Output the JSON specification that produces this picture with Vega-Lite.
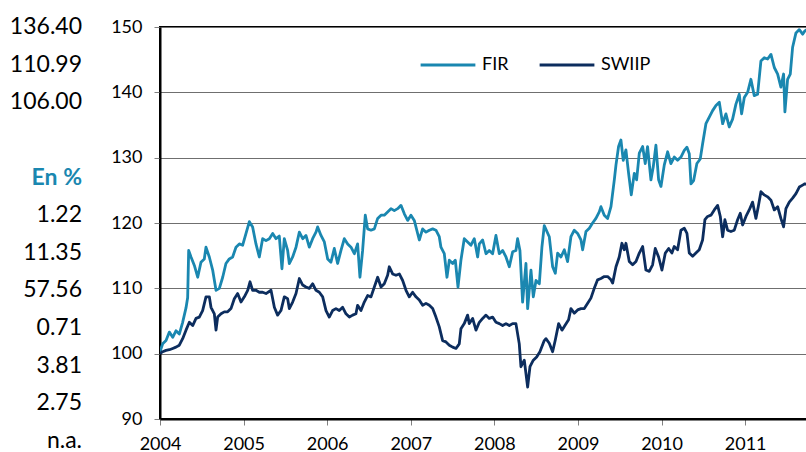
{
  "$schema": "https://vega.github.io/schema/vega-lite/v6.json",
  "padding": {"left": 0, "top": 16, "right": 0, "bottom": 0},
  "config": {"font": "Lato", "view": {"stroke": null}, "concat": {"spacing": 27}},
  "resolve": {"legend": {"color": "independent"}},
  "hconcat": [
    {
      "width": 82,
      "height": 414,
      "data": {"values": [
        {"row": 1, "label": "136.40", "kind": "value"},
        {"row": 2, "label": "110.99", "kind": "value"},
        {"row": 3, "label": "106.00", "kind": "value"},
        {"row": 5, "label": "En %", "kind": "header"},
        {"row": 6, "label": "1.22", "kind": "value"},
        {"row": 7, "label": "11.35", "kind": "value"},
        {"row": 8, "label": "57.56", "kind": "value"},
        {"row": 9, "label": "0.71", "kind": "value"},
        {"row": 10, "label": "3.81", "kind": "value"},
        {"row": 11, "label": "2.75", "kind": "value"},
        {"row": 12, "label": "n.a.", "kind": "value"}
      ]},
      "encoding": {
        "x": {"datum": 1, "type": "quantitative", "scale": {"domain": [0, 1]}, "axis": null},
        "y": {"field": "row", "type": "ordinal", "scale": {"type": "point", "padding": 0, "domain": [1,2,3,4,5,6,7,8,9,10,11,12]}, "axis": null},
        "text": {"field": "label"}
      },
      "layer": [
        {"transform": [{"filter": "datum.kind === 'value'"}],
         "mark": {"type": "text", "align": "right", "baseline": "middle", "fontSize": 23, "color": "#000000"}},
        {"transform": [{"filter": "datum.kind === 'header'"}],
         "mark": {"type": "text", "align": "right", "baseline": "middle", "fontSize": 23, "fontWeight": "bold", "color": "#1a87b0"}}
      ]
    },
    {
      "width": 652,
      "height": 392,
      "view": {"stroke": "#000000", "strokeWidth": 2},
      "data": {"values": [
        {"s":"FIR","t":2004.000,"v":100.3},{"s":"FIR","t":2004.032,"v":101.5},{"s":"FIR","t":2004.072,"v":102},{"s":"FIR","t":2004.112,"v":103.3},{"s":"FIR","t":2004.152,"v":102.5},{"s":"FIR","t":2004.191,"v":103.5},{"s":"FIR","t":2004.231,"v":103},{"s":"FIR","t":2004.271,"v":104.8},{"s":"FIR","t":2004.311,"v":107},{"s":"FIR","t":2004.331,"v":108.6},{"s":"FIR","t":2004.343,"v":115.8},{"s":"FIR","t":2004.371,"v":114.8},{"s":"FIR","t":2004.411,"v":113.5},{"s":"FIR","t":2004.451,"v":111.7},{"s":"FIR","t":2004.490,"v":114},{"s":"FIR","t":2004.530,"v":114.5},{"s":"FIR","t":2004.550,"v":116.3},{"s":"FIR","t":2004.590,"v":114.8},{"s":"FIR","t":2004.630,"v":112.8},{"s":"FIR","t":2004.670,"v":109.7},{"s":"FIR","t":2004.710,"v":110},{"s":"FIR","t":2004.750,"v":111.7},{"s":"FIR","t":2004.789,"v":113.8},{"s":"FIR","t":2004.829,"v":114.5},{"s":"FIR","t":2004.869,"v":114.8},{"s":"FIR","t":2004.909,"v":116.3},{"s":"FIR","t":2004.949,"v":116.8},{"s":"FIR","t":2004.989,"v":116.6},{"s":"FIR","t":2005.029,"v":118.4},{"s":"FIR","t":2005.069,"v":120.2},{"s":"FIR","t":2005.108,"v":119.4},{"s":"FIR","t":2005.148,"v":116.8},{"s":"FIR","t":2005.188,"v":114.8},{"s":"FIR","t":2005.228,"v":117.6},{"s":"FIR","t":2005.268,"v":117.3},{"s":"FIR","t":2005.308,"v":117.6},{"s":"FIR","t":2005.348,"v":118.4},{"s":"FIR","t":2005.388,"v":117.6},{"s":"FIR","t":2005.427,"v":118},{"s":"FIR","t":2005.459,"v":113},{"s":"FIR","t":2005.487,"v":117.6},{"s":"FIR","t":2005.527,"v":115.8},
        {"s":"FIR","t":2005.547,"v":113.8},{"s":"FIR","t":2005.587,"v":114.8},{"s":"FIR","t":2005.627,"v":116.3},{"s":"FIR","t":2005.667,"v":118.6},{"s":"FIR","t":2005.707,"v":117.6},{"s":"FIR","t":2005.746,"v":118.1},{"s":"FIR","t":2005.786,"v":116.3},{"s":"FIR","t":2005.826,"v":117.6},{"s":"FIR","t":2005.866,"v":118.6},{"s":"FIR","t":2005.886,"v":119.4},{"s":"FIR","t":2005.926,"v":118.1},{"s":"FIR","t":2005.966,"v":117.1},{"s":"FIR","t":2006.006,"v":114.5},{"s":"FIR","t":2006.045,"v":114},{"s":"FIR","t":2006.085,"v":116.1},{"s":"FIR","t":2006.125,"v":113.8},{"s":"FIR","t":2006.165,"v":115.8},{"s":"FIR","t":2006.205,"v":117.6},{"s":"FIR","t":2006.245,"v":116.8},{"s":"FIR","t":2006.285,"v":116.3},{"s":"FIR","t":2006.325,"v":115.3},{"s":"FIR","t":2006.364,"v":116.8},{"s":"FIR","t":2006.392,"v":111.7},{"s":"FIR","t":2006.424,"v":115.8},{"s":"FIR","t":2006.456,"v":121.2},{"s":"FIR","t":2006.484,"v":119.1},{"s":"FIR","t":2006.524,"v":118.9},{"s":"FIR","t":2006.564,"v":119.1},{"s":"FIR","t":2006.604,"v":120.7},{"s":"FIR","t":2006.644,"v":121.2},{"s":"FIR","t":2006.683,"v":121.2},{"s":"FIR","t":2006.723,"v":121.7},{"s":"FIR","t":2006.763,"v":122.2},{"s":"FIR","t":2006.803,"v":121.9},{"s":"FIR","t":2006.843,"v":122.2},{"s":"FIR","t":2006.883,"v":122.7},{"s":"FIR","t":2006.923,"v":121.4},{"s":"FIR","t":2006.963,"v":120.4},{"s":"FIR","t":2007.002,"v":121.2},{"s":"FIR","t":2007.042,"v":120.4},
        {"s":"FIR","t":2007.102,"v":117.4},{"s":"FIR","t":2007.142,"v":119.1},{"s":"FIR","t":2007.182,"v":118.6},{"s":"FIR","t":2007.222,"v":118.9},{"s":"FIR","t":2007.262,"v":119.1},{"s":"FIR","t":2007.301,"v":118.9},{"s":"FIR","t":2007.341,"v":117.9},{"s":"FIR","t":2007.361,"v":116.3},{"s":"FIR","t":2007.401,"v":115.3},{"s":"FIR","t":2007.433,"v":111.7},{"s":"FIR","t":2007.461,"v":114.3},{"s":"FIR","t":2007.501,"v":113.8},{"s":"FIR","t":2007.533,"v":114.3},{"s":"FIR","t":2007.565,"v":110.2},{"s":"FIR","t":2007.600,"v":114.3},{"s":"FIR","t":2007.640,"v":117.6},{"s":"FIR","t":2007.680,"v":117.1},{"s":"FIR","t":2007.720,"v":116.6},{"s":"FIR","t":2007.760,"v":117.6},{"s":"FIR","t":2007.800,"v":114.8},{"s":"FIR","t":2007.820,"v":116.8},{"s":"FIR","t":2007.860,"v":117.4},{"s":"FIR","t":2007.900,"v":115.3},{"s":"FIR","t":2007.939,"v":115.8},{"s":"FIR","t":2007.979,"v":115.3},{"s":"FIR","t":2008.019,"v":118.1},{"s":"FIR","t":2008.059,"v":115.3},{"s":"FIR","t":2008.099,"v":115.8},{"s":"FIR","t":2008.139,"v":114.8},{"s":"FIR","t":2008.179,"v":113.3},{"s":"FIR","t":2008.219,"v":115.6},{"s":"FIR","t":2008.258,"v":115.8},{"s":"FIR","t":2008.278,"v":117.6},{"s":"FIR","t":2008.306,"v":115.8},{"s":"FIR","t":2008.338,"v":107.9},{"s":"FIR","t":2008.378,"v":113.8},{"s":"FIR","t":2008.398,"v":106.9},{"s":"FIR","t":2008.438,"v":112.8},{"s":"FIR","t":2008.466,"v":108.7},{"s":"FIR","t":2008.498,"v":111.2},{"s":"FIR","t":2008.538,"v":110.7},{"s":"FIR","t":2008.569,"v":116.3},{"s":"FIR","t":2008.597,"v":119.6},
        {"s":"FIR","t":2008.657,"v":117.9},{"s":"FIR","t":2008.697,"v":113.3},{"s":"FIR","t":2008.729,"v":112.3},{"s":"FIR","t":2008.757,"v":115.4},{"s":"FIR","t":2008.797,"v":114.8},{"s":"FIR","t":2008.837,"v":115.9},{"s":"FIR","t":2008.876,"v":114.1},{"s":"FIR","t":2008.916,"v":117.9},{"s":"FIR","t":2008.956,"v":118.9},{"s":"FIR","t":2008.996,"v":118.4},{"s":"FIR","t":2009.036,"v":117.4},{"s":"FIR","t":2009.056,"v":115.9},{"s":"FIR","t":2009.096,"v":118.7},{"s":"FIR","t":2009.136,"v":119.2},{"s":"FIR","t":2009.175,"v":120},{"s":"FIR","t":2009.215,"v":120.7},{"s":"FIR","t":2009.255,"v":121.7},{"s":"FIR","t":2009.275,"v":122.5},{"s":"FIR","t":2009.315,"v":121.2},{"s":"FIR","t":2009.355,"v":120.7},{"s":"FIR","t":2009.395,"v":122.5},{"s":"FIR","t":2009.435,"v":126.6},{"s":"FIR","t":2009.455,"v":128.9},{"s":"FIR","t":2009.486,"v":131.7},{"s":"FIR","t":2009.514,"v":132.7},{"s":"FIR","t":2009.542,"v":129.6},{"s":"FIR","t":2009.574,"v":131.2},{"s":"FIR","t":2009.606,"v":127.6},{"s":"FIR","t":2009.638,"v":124.3},{"s":"FIR","t":2009.674,"v":127.6},{"s":"FIR","t":2009.702,"v":126.6},{"s":"FIR","t":2009.734,"v":130.7},{"s":"FIR","t":2009.774,"v":131.7},{"s":"FIR","t":2009.805,"v":129.1},{"s":"FIR","t":2009.833,"v":131.7},{"s":"FIR","t":2009.873,"v":126.6},{"s":"FIR","t":2009.901,"v":128.6},{"s":"FIR","t":2009.933,"v":131.9},{"s":"FIR","t":2009.965,"v":126.6},{"s":"FIR","t":2009.993,"v":125.6},{"s":"FIR","t":2010.033,"v":128.9},{"s":"FIR","t":2010.073,"v":130.9},{"s":"FIR","t":2010.112,"v":129.1},
        {"s":"FIR","t":2010.152,"v":130.1},{"s":"FIR","t":2010.192,"v":129.6},{"s":"FIR","t":2010.232,"v":130.1},{"s":"FIR","t":2010.272,"v":131.1},{"s":"FIR","t":2010.304,"v":131.6},{"s":"FIR","t":2010.332,"v":130.6},{"s":"FIR","t":2010.352,"v":126},{"s":"FIR","t":2010.384,"v":126.5},{"s":"FIR","t":2010.423,"v":129.1},{"s":"FIR","t":2010.463,"v":129.8},{"s":"FIR","t":2010.491,"v":132.1},{"s":"FIR","t":2010.531,"v":135.2},{"s":"FIR","t":2010.571,"v":136.2},{"s":"FIR","t":2010.611,"v":137.2},{"s":"FIR","t":2010.651,"v":138},{"s":"FIR","t":2010.691,"v":138.5},{"s":"FIR","t":2010.731,"v":135.2},{"s":"FIR","t":2010.770,"v":136.7},{"s":"FIR","t":2010.810,"v":134.7},{"s":"FIR","t":2010.850,"v":135.9},{"s":"FIR","t":2010.890,"v":138.2},{"s":"FIR","t":2010.930,"v":139.7},{"s":"FIR","t":2010.958,"v":136.7},{"s":"FIR","t":2010.990,"v":139.2},{"s":"FIR","t":2011.030,"v":140},{"s":"FIR","t":2011.069,"v":142},{"s":"FIR","t":2011.109,"v":139.5},{"s":"FIR","t":2011.149,"v":139.7},{"s":"FIR","t":2011.189,"v":144.8},{"s":"FIR","t":2011.229,"v":145.3},{"s":"FIR","t":2011.269,"v":145.1},{"s":"FIR","t":2011.309,"v":145.8},{"s":"FIR","t":2011.349,"v":143.8},{"s":"FIR","t":2011.389,"v":142.8},{"s":"FIR","t":2011.428,"v":140.8},{"s":"FIR","t":2011.460,"v":142.8},{"s":"FIR","t":2011.476,"v":137},{"s":"FIR","t":2011.508,"v":142},{"s":"FIR","t":2011.540,"v":142.8},{"s":"FIR","t":2011.568,"v":146.9},{"s":"FIR","t":2011.608,"v":149.1},{"s":"FIR","t":2011.648,"v":149.6},{"s":"FIR","t":2011.688,"v":148.9},{"s":"FIR","t":2011.715,"v":149.4},{"s":"FIR","t":2011.740,"v":149.6},

        {"s":"SWIIP","t":2004.000,"v":100},{"s":"SWIIP","t":2004.032,"v":100.3},{"s":"SWIIP","t":2004.072,"v":100.5},{"s":"SWIIP","t":2004.112,"v":100.6},{"s":"SWIIP","t":2004.152,"v":100.8},{"s":"SWIIP","t":2004.191,"v":101},{"s":"SWIIP","t":2004.231,"v":101.3},{"s":"SWIIP","t":2004.271,"v":102.3},{"s":"SWIIP","t":2004.311,"v":103.6},{"s":"SWIIP","t":2004.351,"v":104.8},{"s":"SWIIP","t":2004.391,"v":104.3},{"s":"SWIIP","t":2004.431,"v":105.4},{"s":"SWIIP","t":2004.470,"v":105.6},{"s":"SWIIP","t":2004.510,"v":106.6},{"s":"SWIIP","t":2004.550,"v":108.7},{"s":"SWIIP","t":2004.590,"v":108.7},{"s":"SWIIP","t":2004.610,"v":107.1},{"s":"SWIIP","t":2004.650,"v":106.1},{"s":"SWIIP","t":2004.670,"v":103.6},{"s":"SWIIP","t":2004.690,"v":105.6},{"s":"SWIIP","t":2004.730,"v":106.1},{"s":"SWIIP","t":2004.769,"v":106.4},{"s":"SWIIP","t":2004.809,"v":106.4},{"s":"SWIIP","t":2004.849,"v":106.9},{"s":"SWIIP","t":2004.889,"v":108.4},{"s":"SWIIP","t":2004.929,"v":109.2},{"s":"SWIIP","t":2004.969,"v":107.9},{"s":"SWIIP","t":2005.009,"v":108.7},{"s":"SWIIP","t":2005.049,"v":109.7},{"s":"SWIIP","t":2005.077,"v":111},{"s":"SWIIP","t":2005.108,"v":109.7},{"s":"SWIIP","t":2005.148,"v":109.7},{"s":"SWIIP","t":2005.188,"v":109.4},{"s":"SWIIP","t":2005.228,"v":109.4},{"s":"SWIIP","t":2005.268,"v":109.2},{"s":"SWIIP","t":2005.328,"v":109.7},{"s":"SWIIP","t":2005.368,"v":107.1},{"s":"SWIIP","t":2005.407,"v":105.9},{"s":"SWIIP","t":2005.447,"v":106.6},{"s":"SWIIP","t":2005.487,"v":108.7},{"s":"SWIIP","t":2005.527,"v":108.4},
        {"s":"SWIIP","t":2005.547,"v":106.9},{"s":"SWIIP","t":2005.587,"v":107.9},{"s":"SWIIP","t":2005.627,"v":109.2},{"s":"SWIIP","t":2005.667,"v":111.5},{"s":"SWIIP","t":2005.707,"v":110.5},{"s":"SWIIP","t":2005.746,"v":110.2},{"s":"SWIIP","t":2005.786,"v":110},{"s":"SWIIP","t":2005.826,"v":110.7},{"s":"SWIIP","t":2005.866,"v":109.7},{"s":"SWIIP","t":2005.906,"v":109.4},{"s":"SWIIP","t":2005.946,"v":108.7},{"s":"SWIIP","t":2005.986,"v":106.6},{"s":"SWIIP","t":2006.025,"v":105.6},{"s":"SWIIP","t":2006.065,"v":106.6},{"s":"SWIIP","t":2006.105,"v":106.9},{"s":"SWIIP","t":2006.145,"v":106.6},{"s":"SWIIP","t":2006.185,"v":107.1},{"s":"SWIIP","t":2006.225,"v":106.1},{"s":"SWIIP","t":2006.265,"v":105.6},{"s":"SWIIP","t":2006.305,"v":105.9},{"s":"SWIIP","t":2006.344,"v":106.1},{"s":"SWIIP","t":2006.364,"v":107.4},{"s":"SWIIP","t":2006.404,"v":106.6},{"s":"SWIIP","t":2006.444,"v":107.9},{"s":"SWIIP","t":2006.484,"v":108.9},{"s":"SWIIP","t":2006.524,"v":108.7},{"s":"SWIIP","t":2006.564,"v":110.2},{"s":"SWIIP","t":2006.604,"v":111.7},{"s":"SWIIP","t":2006.644,"v":110.2},{"s":"SWIIP","t":2006.683,"v":110.7},{"s":"SWIIP","t":2006.723,"v":112},{"s":"SWIIP","t":2006.743,"v":113.3},{"s":"SWIIP","t":2006.783,"v":112.2},{"s":"SWIIP","t":2006.823,"v":112},{"s":"SWIIP","t":2006.863,"v":112.2},{"s":"SWIIP","t":2006.903,"v":111.2},{"s":"SWIIP","t":2006.943,"v":109.7},{"s":"SWIIP","t":2006.982,"v":108.7},{"s":"SWIIP","t":2007.022,"v":109.4},{"s":"SWIIP","t":2007.062,"v":108.7},
        {"s":"SWIIP","t":2007.102,"v":108.2},{"s":"SWIIP","t":2007.142,"v":107.4},{"s":"SWIIP","t":2007.182,"v":107.7},{"s":"SWIIP","t":2007.222,"v":107.4},{"s":"SWIIP","t":2007.262,"v":106.9},{"s":"SWIIP","t":2007.301,"v":105.6},{"s":"SWIIP","t":2007.341,"v":104.1},{"s":"SWIIP","t":2007.381,"v":102},{"s":"SWIIP","t":2007.421,"v":101.8},{"s":"SWIIP","t":2007.461,"v":101.3},{"s":"SWIIP","t":2007.501,"v":101},{"s":"SWIIP","t":2007.541,"v":100.8},{"s":"SWIIP","t":2007.580,"v":101.5},{"s":"SWIIP","t":2007.600,"v":103.8},{"s":"SWIIP","t":2007.640,"v":104.6},{"s":"SWIIP","t":2007.680,"v":105.9},{"s":"SWIIP","t":2007.700,"v":104.6},{"s":"SWIIP","t":2007.740,"v":105.4},{"s":"SWIIP","t":2007.780,"v":103.6},{"s":"SWIIP","t":2007.820,"v":104.8},{"s":"SWIIP","t":2007.860,"v":105.4},{"s":"SWIIP","t":2007.900,"v":105.9},{"s":"SWIIP","t":2007.939,"v":105.4},{"s":"SWIIP","t":2007.979,"v":105.6},{"s":"SWIIP","t":2008.019,"v":104.8},{"s":"SWIIP","t":2008.059,"v":104.6},{"s":"SWIIP","t":2008.099,"v":104.3},{"s":"SWIIP","t":2008.139,"v":104.6},{"s":"SWIIP","t":2008.179,"v":104.3},{"s":"SWIIP","t":2008.219,"v":104.6},{"s":"SWIIP","t":2008.258,"v":104.6},{"s":"SWIIP","t":2008.298,"v":101.5},{"s":"SWIIP","t":2008.318,"v":98},{"s":"SWIIP","t":2008.358,"v":99},{"s":"SWIIP","t":2008.398,"v":94.9},{"s":"SWIIP","t":2008.426,"v":98},{"s":"SWIIP","t":2008.466,"v":99},{"s":"SWIIP","t":2008.506,"v":99.5},{"s":"SWIIP","t":2008.545,"v":100.3},{"s":"SWIIP","t":2008.597,"v":102},
        {"s":"SWIIP","t":2008.617,"v":102.3},{"s":"SWIIP","t":2008.657,"v":101.6},{"s":"SWIIP","t":2008.697,"v":100.3},{"s":"SWIIP","t":2008.729,"v":102.1},{"s":"SWIIP","t":2008.769,"v":104.6},{"s":"SWIIP","t":2008.809,"v":103.6},{"s":"SWIIP","t":2008.848,"v":104.4},{"s":"SWIIP","t":2008.888,"v":105.2},{"s":"SWIIP","t":2008.916,"v":106.9},{"s":"SWIIP","t":2008.956,"v":106.2},{"s":"SWIIP","t":2008.996,"v":106.7},{"s":"SWIIP","t":2009.036,"v":106.9},{"s":"SWIIP","t":2009.076,"v":106.9},{"s":"SWIIP","t":2009.116,"v":107.7},{"s":"SWIIP","t":2009.155,"v":108.5},{"s":"SWIIP","t":2009.195,"v":110},{"s":"SWIIP","t":2009.235,"v":111.3},{"s":"SWIIP","t":2009.275,"v":111.5},{"s":"SWIIP","t":2009.315,"v":111.8},{"s":"SWIIP","t":2009.355,"v":111.8},{"s":"SWIIP","t":2009.395,"v":111.3},{"s":"SWIIP","t":2009.415,"v":110.8},{"s":"SWIIP","t":2009.455,"v":113.3},{"s":"SWIIP","t":2009.494,"v":114.8},{"s":"SWIIP","t":2009.526,"v":116.9},{"s":"SWIIP","t":2009.554,"v":115.9},{"s":"SWIIP","t":2009.574,"v":116.9},{"s":"SWIIP","t":2009.614,"v":114.1},{"s":"SWIIP","t":2009.654,"v":113.6},{"s":"SWIIP","t":2009.694,"v":114.1},{"s":"SWIIP","t":2009.734,"v":115.4},{"s":"SWIIP","t":2009.774,"v":116.4},{"s":"SWIIP","t":2009.813,"v":112.8},{"s":"SWIIP","t":2009.853,"v":112.6},{"s":"SWIIP","t":2009.893,"v":113.6},{"s":"SWIIP","t":2009.925,"v":116.1},{"s":"SWIIP","t":2009.965,"v":114.8},{"s":"SWIIP","t":2010.005,"v":112.8},{"s":"SWIIP","t":2010.045,"v":115.4},{"s":"SWIIP","t":2010.085,"v":116.1},{"s":"SWIIP","t":2010.124,"v":115.4},
        {"s":"SWIIP","t":2010.152,"v":116.4},{"s":"SWIIP","t":2010.192,"v":115.9},{"s":"SWIIP","t":2010.232,"v":118.9},{"s":"SWIIP","t":2010.272,"v":119.2},{"s":"SWIIP","t":2010.304,"v":118.4},{"s":"SWIIP","t":2010.332,"v":115.4},{"s":"SWIIP","t":2010.372,"v":114.9},{"s":"SWIIP","t":2010.411,"v":115.4},{"s":"SWIIP","t":2010.451,"v":115.9},{"s":"SWIIP","t":2010.491,"v":117.4},{"s":"SWIIP","t":2010.519,"v":120.5},{"s":"SWIIP","t":2010.551,"v":121},{"s":"SWIIP","t":2010.591,"v":121.2},{"s":"SWIIP","t":2010.631,"v":122},{"s":"SWIIP","t":2010.671,"v":122.7},{"s":"SWIIP","t":2010.703,"v":121},{"s":"SWIIP","t":2010.731,"v":117.9},{"s":"SWIIP","t":2010.758,"v":120.5},{"s":"SWIIP","t":2010.790,"v":118.9},{"s":"SWIIP","t":2010.830,"v":118.7},{"s":"SWIIP","t":2010.870,"v":118.9},{"s":"SWIIP","t":2010.910,"v":120.5},{"s":"SWIIP","t":2010.942,"v":121.5},{"s":"SWIIP","t":2010.970,"v":119.7},{"s":"SWIIP","t":2011.010,"v":121},{"s":"SWIIP","t":2011.049,"v":122},{"s":"SWIIP","t":2011.089,"v":123.2},{"s":"SWIIP","t":2011.129,"v":120.7},{"s":"SWIIP","t":2011.157,"v":122.5},{"s":"SWIIP","t":2011.189,"v":124.8},{"s":"SWIIP","t":2011.229,"v":124.3},{"s":"SWIIP","t":2011.269,"v":124},{"s":"SWIIP","t":2011.309,"v":123.5},{"s":"SWIIP","t":2011.349,"v":122},{"s":"SWIIP","t":2011.389,"v":122.5},{"s":"SWIIP","t":2011.428,"v":120.7},{"s":"SWIIP","t":2011.460,"v":119.4},{"s":"SWIIP","t":2011.488,"v":122.2},{"s":"SWIIP","t":2011.528,"v":123.2},{"s":"SWIIP","t":2011.568,"v":123.8},{"s":"SWIIP","t":2011.608,"v":124.5},{"s":"SWIIP","t":2011.648,"v":125.5},{"s":"SWIIP","t":2011.688,"v":125.8},{"s":"SWIIP","t":2011.715,"v":126},{"s":"SWIIP","t":2011.740,"v":125.9}
      ]},
      "mark": {"type": "line", "strokeWidth": 2.8, "clip": true, "strokeJoin": "round"},
      "encoding": {
        "x": {"field": "t", "type": "quantitative",
              "scale": {"domain": [2004, 2011.8], "nice": false, "zero": false},
              "axis": {"values": [2004, 2005, 2006, 2007, 2008, 2009, 2010, 2011], "format": "d", "title": null, "grid": false,
                       "labelFlush": false, "labelFontSize": 18, "labelColor": "#000000", "labelPadding": 10,
                       "tickSize": 6, "tickColor": "#808080", "domainColor": "#000000", "domainWidth": 2}},
        "y": {"field": "v", "type": "quantitative",
              "scale": {"domain": [90, 150], "nice": false, "zero": false},
              "axis": {"values": [90, 100, 110, 120, 130, 140, 150], "title": null, "grid": true, "gridColor": "#6f6f6f", "gridWidth": 1,
                       "labelFontSize": 18, "labelColor": "#000000", "labelPadding": 12,
                       "tickSize": 6, "tickColor": "#808080", "domainColor": "#000000", "domainWidth": 2}},
        "color": {"field": "s", "type": "nominal",
                  "scale": {"domain": ["FIR", "SWIIP"], "range": ["#1a87b0", "#0c2d5e"]},
                  "legend": {"orient": "none", "legendX": 259, "legendY": 9, "direction": "horizontal", "title": null,
                             "symbolType": "stroke", "symbolSize": 3000, "symbolStrokeWidth": 2.8,
                             "labelFontSize": 18, "labelColor": "#000000", "labelOffset": 5, "columnPadding": 25}}
      }
    }
  ]
}
